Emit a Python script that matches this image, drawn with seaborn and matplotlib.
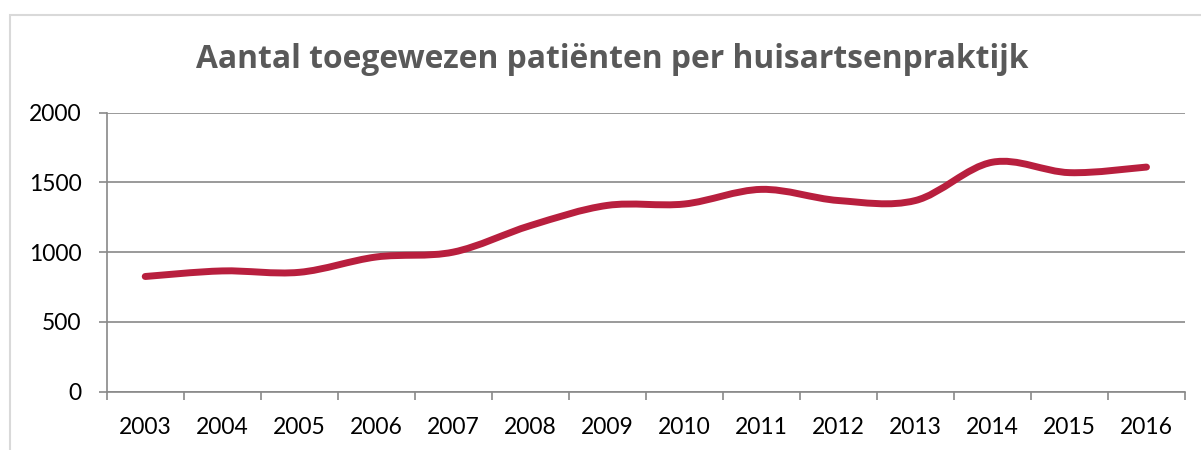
import numpy as np
import pandas as pd
import matplotlib
matplotlib.use("Agg")
import matplotlib.pyplot as plt
import seaborn as sns
from matplotlib.path import Path
from matplotlib.patches import PathPatch, Rectangle

# Data
years = ["2003", "2004", "2005", "2006", "2007", "2008", "2009",
         "2010", "2011", "2012", "2013", "2014", "2015", "2016"]
patients = [825, 865, 855, 965, 1000, 1190, 1335,
            1345, 1450, 1370, 1370, 1645, 1570, 1610]
y_ticks = [0, 500, 1000, 1500, 2000]
title = "Aantal toegewezen patiënten per huisartsenpraktijk"

LINE_COLOR = "#B81F3E"
GRID_COLOR = "#898989"
TITLE_COLOR = "#595959"

sns.set_theme(style="white")
plt.rcParams["font.family"] = ["Lato", "DejaVu Sans"]

W, H = 1201, 450
fig = plt.figure(figsize=(W / 100, H / 100), dpi=100)
fig.patch.set_facecolor("white")

# Plot area
left, right, top, bottom = 106.7, 1185.0, 112.7, 391.5
ax = fig.add_axes([left / W, 1 - bottom / H, (right - left) / W, (bottom - top) / H])

df = pd.DataFrame({"jaar": years, "patienten": patients})
df["pos"] = np.arange(len(years))
sns.lineplot(data=df, x="pos", y="patienten", ax=ax, color=LINE_COLOR, linewidth=5)

# Replace the straight polyline with a smoothed Bezier curve through the same points
line = ax.lines[0]
pts = line.get_xydata()
line.remove()
n = len(pts)
verts = [tuple(pts[0])]
codes = [Path.MOVETO]
for i in range(n - 1):
    p0 = pts[i - 1] if i > 0 else pts[i]
    p1 = pts[i]
    p2 = pts[i + 1]
    p3 = pts[i + 2] if i + 2 < n else pts[i + 1]
    c1 = p1 + (p2 - p0) / 6.0
    c2 = p2 - (p3 - p1) / 6.0
    verts += [tuple(c1), tuple(c2), tuple(p2)]
    codes += [Path.CURVE4] * 3
curve = PathPatch(Path(verts, codes), facecolor="none", edgecolor=LINE_COLOR,
                  linewidth=5, capstyle="round", joinstyle="round", zorder=3)
ax.add_patch(curve)

# Axes styling
ax.set_xlim(-0.5, len(years) - 0.5)
ax.set_ylim(0, 2000)
ax.set_xlabel("")
ax.set_ylabel("")
ax.set_yticks(y_ticks)
ax.set_yticklabels([str(v) for v in y_ticks])
ax.set_xticks(np.arange(len(years)))
ax.set_xticklabels(years)
ax.set_xticks(np.arange(-0.5, len(years)), minor=True)

ax.yaxis.grid(True, color=GRID_COLOR, linewidth=1.2)
ax.xaxis.grid(False)
ax.set_axisbelow(True)
for s in ["top", "right"]:
    ax.spines[s].set_visible(False)
for s in ["left", "bottom"]:
    ax.spines[s].set_color(GRID_COLOR)
    ax.spines[s].set_linewidth(1.2)

ax.tick_params(axis="y", which="major", direction="out", length=6, width=1.2,
               color=GRID_COLOR, labelsize=16.5, labelcolor="black", pad=12, left=True)
ax.tick_params(axis="x", which="major", length=0, labelsize=16.5,
               labelcolor="black", pad=18)
ax.tick_params(axis="x", which="minor", direction="out", length=6, width=1.2,
               color=GRID_COLOR, bottom=True)

# Title
fig.text(612.5 / W, 1 - 59 / H, title, ha="center", va="center",
         fontsize=22.9, fontweight="bold", color=TITLE_COLOR,
         family=["Open Sans", "DejaVu Sans"])

# Chart frame
fig.add_artist(Rectangle((10 / W, -1.0), 2.0, 2.0 - 15 / H,
                         transform=fig.transFigure, fill=False,
                         edgecolor="#D9D9D9", linewidth=1.5))

fig.savefig("out.png", dpi=100)
